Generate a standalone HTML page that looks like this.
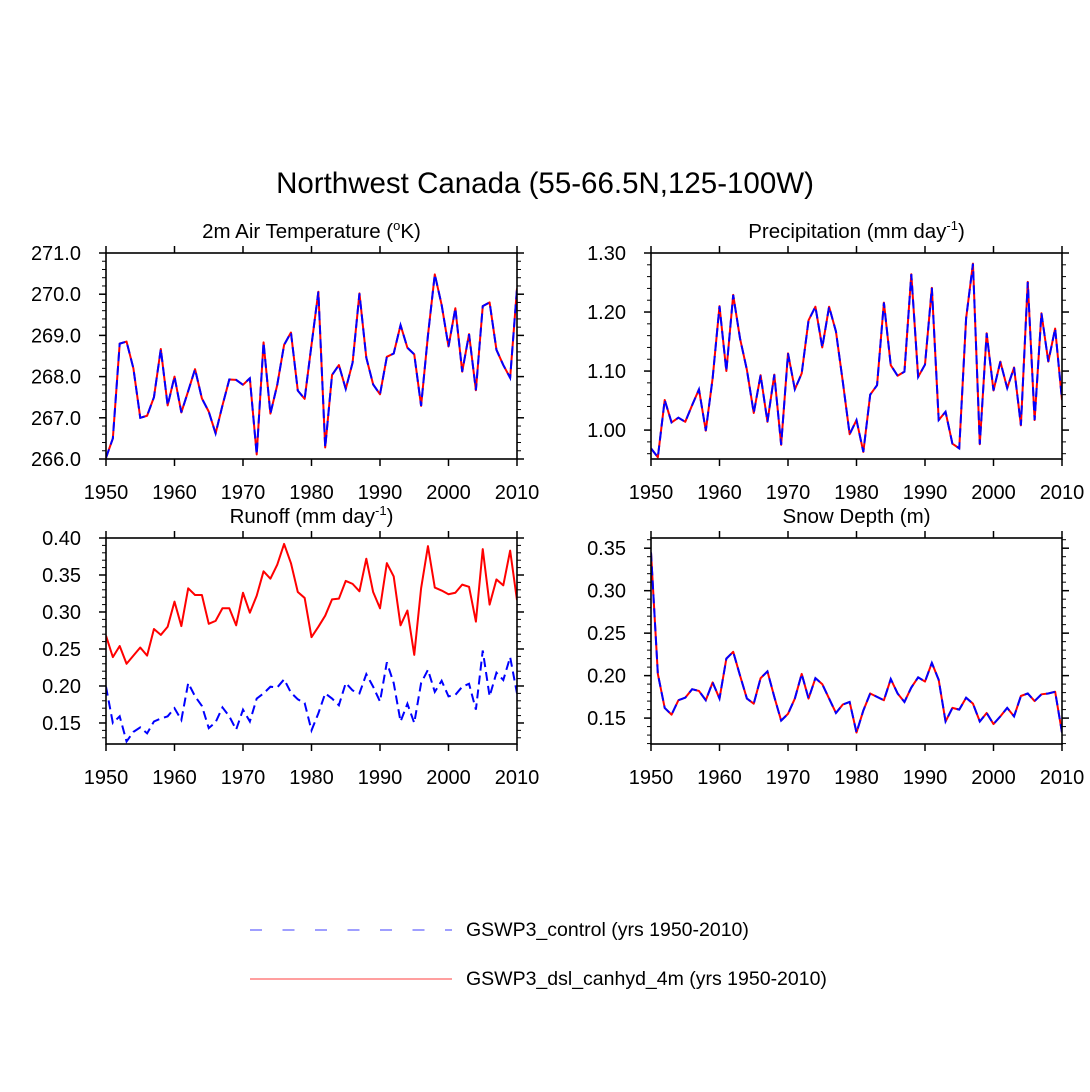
<!DOCTYPE html>
<html><head><meta charset="utf-8"><style>
html,body{margin:0;padding:0;background:#fff;}
svg{display:block;font-family:"Liberation Sans",sans-serif;}
</style></head><body>
<svg id="chart" width="1090" height="1092" viewBox="0 0 1090 1092" xmlns="http://www.w3.org/2000/svg">
<text x="545" y="193" font-size="29.5" text-anchor="middle">Northwest Canada (55-66.5N,125-100W)</text>
<g id="panels"></g>
<g>
<line x1="250" y1="930" x2="452" y2="930" stroke="#6666ff" stroke-width="1.3" stroke-dasharray="12,20.5"/>
<text x="466" y="936" font-size="19.5">GSWP3_control (yrs 1950-2010)</text>
<line x1="250" y1="979" x2="452" y2="979" stroke="#ff6666" stroke-width="1.3"/>
<text x="466" y="985" font-size="19.5">GSWP3_dsl_canhyd_4m (yrs 1950-2010)</text>
</g>
</svg>
<script>
const years = [];
for (let y = 1950; y <= 2010; y++) years.push(y);
const xTicks = [1950,1960,1970,1980,1990,2000,2010];

const tempRed = [266.03,266.5,268.8,268.85,268.2,267.0,267.05,267.5,268.67,267.3,268.0,267.13,267.65,268.18,267.47,267.15,266.62,267.3,267.93,267.92,267.8,267.96,266.11,268.83,267.1,267.8,268.77,269.07,267.66,267.46,268.77,270.06,266.28,268.04,268.28,267.7,268.34,270.02,268.46,267.81,267.57,268.48,268.56,269.25,268.7,268.54,267.29,269.0,270.48,269.74,268.73,269.66,268.12,269.03,267.67,269.71,269.8,268.65,268.28,267.97,270.14];
const tempBlue = tempRed.slice();
const precRed = [0.969,0.954,1.051,1.013,1.021,1.014,1.042,1.069,0.999,1.088,1.21,1.10,1.229,1.155,1.102,1.029,1.093,1.014,1.094,0.975,1.13,1.069,1.096,1.186,1.209,1.14,1.209,1.167,1.082,0.993,1.017,0.963,1.06,1.076,1.216,1.11,1.092,1.099,1.264,1.09,1.111,1.241,1.017,1.031,0.977,0.969,1.189,1.282,0.976,1.164,1.067,1.116,1.071,1.106,1.008,1.251,1.017,1.198,1.116,1.172,1.051];
const precBlue = precRed.slice();
const runRed = [0.268,0.239,0.254,0.230,0.241,0.252,0.241,0.277,0.269,0.280,0.314,0.281,0.332,0.323,0.323,0.284,0.288,0.305,0.305,0.282,0.326,0.299,0.322,0.355,0.345,0.364,0.392,0.366,0.327,0.319,0.266,0.280,0.295,0.317,0.318,0.342,0.338,0.328,0.372,0.327,0.305,0.366,0.348,0.282,0.302,0.242,0.332,0.389,0.333,0.329,0.324,0.326,0.337,0.334,0.287,0.385,0.310,0.344,0.336,0.383,0.316];
const runBlue = [0.199,0.150,0.159,0.125,0.138,0.144,0.136,0.152,0.156,0.159,0.170,0.154,0.204,0.186,0.173,0.143,0.151,0.171,0.159,0.141,0.168,0.152,0.183,0.190,0.199,0.198,0.209,0.191,0.182,0.177,0.140,0.163,0.190,0.183,0.174,0.204,0.194,0.190,0.216,0.199,0.179,0.232,0.204,0.152,0.176,0.150,0.204,0.222,0.192,0.207,0.186,0.188,0.199,0.203,0.168,0.248,0.186,0.218,0.208,0.239,0.190];
const snowRed = [0.345,0.202,0.162,0.154,0.171,0.174,0.184,0.182,0.171,0.192,0.173,0.22,0.228,0.20,0.173,0.167,0.197,0.205,0.175,0.147,0.155,0.173,0.202,0.173,0.197,0.19,0.173,0.156,0.166,0.169,0.133,0.159,0.179,0.175,0.171,0.196,0.179,0.169,0.186,0.198,0.193,0.215,0.195,0.146,0.162,0.16,0.174,0.167,0.146,0.156,0.143,0.152,0.162,0.152,0.176,0.179,0.17,0.178,0.179,0.181,0.133];
const snowBlue = snowRed.slice();

const tempTicks = [266,267,268,269,270,271];
const precTicks = [1.0,1.1,1.2,1.3];
const runTicks = [0.15,0.20,0.25,0.30,0.35,0.40];
const snowTicks = [0.15,0.20,0.25,0.30,0.35];

const NS = "http://www.w3.org/2000/svg";
const root = document.getElementById('panels');
function mk(tag, attrs, parent) {
  const e = document.createElementNS(NS, tag);
  for (const k in attrs) e.setAttribute(k, attrs[k]);
  parent.appendChild(e);
  return e;
}

const panels = [
  {name:'air-temperature', tLabel:['2m Air Temperature (','o','K)'], x0:106,x1:517,y0:253,y1:459, ymin:266, ymax:271, ticks:tempTicks, minor:0.2, dec:1, red:tempRed, blue:tempBlue},
  {name:'precipitation', tLabel:['Precipitation (mm day','-1',')'], x0:651,x1:1062,y0:253,y1:459, ymin:0.951, ymax:1.30, ticks:precTicks, minor:0.02, dec:2, red:precRed, blue:precBlue},
  {name:'runoff', tLabel:['Runoff (mm day','-1',')'], x0:106,x1:517,y0:538,y1:744, ymin:0.1216, ymax:0.40, ticks:runTicks, minor:0.01, dec:2, red:runRed, blue:runBlue},
  {name:'snow-depth', tLabel:['Snow Depth (m)','',''], x0:651,x1:1062,y0:538,y1:744, ymin:0.1195, ymax:0.362, ticks:snowTicks, minor:0.01, dec:2, red:snowRed, blue:snowBlue}
];

panels.forEach(p => {
  const g = mk('g', {}, root);
  
  
  const xs = v => p.x0 + (v - 1950) / 60 * (p.x1 - p.x0);
  const ys = v => p.y1 - (v - p.ymin) / (p.ymax - p.ymin) * (p.y1 - p.y0);
  const t = mk('text', {x:(p.x0+p.x1)/2, y:p.y0-15, 'font-size':20.5, 'text-anchor':'middle'}, g);
  
  
  t.appendChild(document.createTextNode(p.tLabel[0]));
  if (p.tLabel[1]) {
    const s = mk('tspan', {dy:-8, 'font-size':13}, t); s.textContent = p.tLabel[1];
    const s2 = mk('tspan', {dy:8}, t); s2.textContent = p.tLabel[2];
  }
  const cid = 'clip-' + p.name;
  const cp = mk('clipPath', {id:cid}, g);
  mk('rect', {x:p.x0, y:p.y0, width:p.x1-p.x0, height:p.y1-p.y0}, cp);
  const path = arr => arr.map((v,i)=> (i?'L':'M') + xs(years[i]).toFixed(2) + ',' + ys(v).toFixed(2)).join('');
  const red = mk('path', {d:path(p.red), fill:'none', stroke:'#ff0000', 'stroke-width':2, 'clip-path':'url(#'+cid+')', 'stroke-linejoin':'round'}, g);
  
  
  const blue = mk('path', {d:path(p.blue), fill:'none', stroke:'#0000ff', 'stroke-width':2, 'stroke-dasharray':'9,5', 'clip-path':'url(#'+cid+')'}, g);
  
  
  const fr = mk('rect', {x:p.x0, y:p.y0, width:p.x1-p.x0, height:p.y1-p.y0, fill:'none', stroke:'#000', 'stroke-width':1.6}, g);
  
  
  xTicks.forEach(v => {
    const x = xs(v);
    mk('line', {x1:x, y1:p.y1, x2:x, y2:p.y1+7, stroke:'#000', 'stroke-width':1.5}, g);
    mk('line', {x1:x, y1:p.y0, x2:x, y2:p.y0-7, stroke:'#000', 'stroke-width':1.5}, g);
    const lb = mk('text', {x:x, y:p.y1+40, 'font-size':20, 'text-anchor':'middle'}, g);
    
    
    lb.textContent = v;
  });
  const n0 = Math.ceil(p.ymin / p.minor - 1e-6), n1 = Math.floor(p.ymax / p.minor + 1e-6);
  for (let k = n0; k <= n1; k++) {
    const y = ys(k * p.minor);
    mk('line', {x1:p.x0, y1:y, x2:p.x0-4, y2:y, stroke:'#000', 'stroke-width':1}, g);
    mk('line', {x1:p.x1, y1:y, x2:p.x1+4, y2:y, stroke:'#000', 'stroke-width':1}, g);
  }
  p.ticks.forEach(v => {
    const y = ys(v);
    mk('line', {x1:p.x0, y1:y, x2:p.x0-7, y2:y, stroke:'#000', 'stroke-width':1.5}, g);
    mk('line', {x1:p.x1, y1:y, x2:p.x1+7, y2:y, stroke:'#000', 'stroke-width':1.5}, g);
    const lb = mk('text', {x:p.x0-25, y:y+7, 'font-size':20, 'text-anchor':'end'}, g);
    
    
    lb.textContent = v.toFixed(p.dec);
  });
});
</script>
</body></html>
